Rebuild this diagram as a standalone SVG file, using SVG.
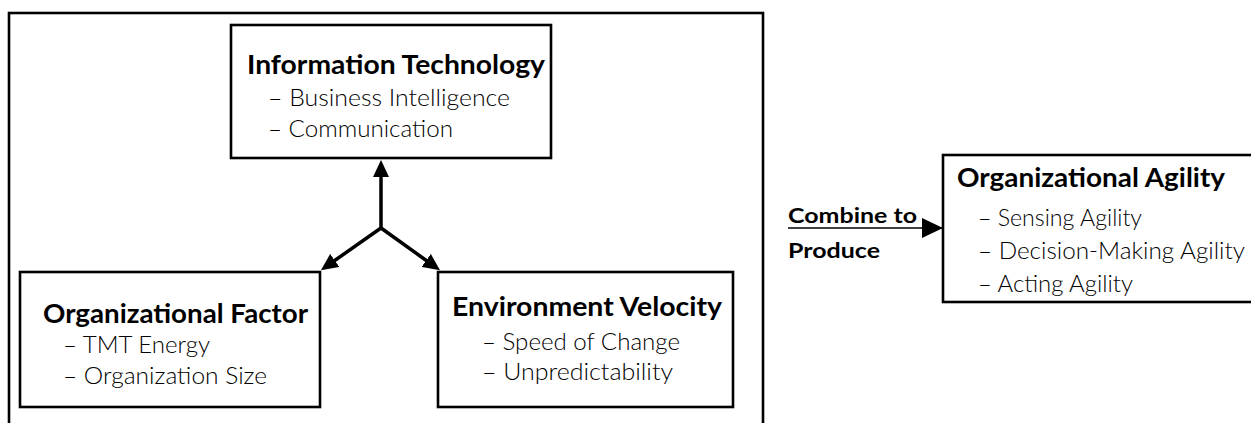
<svg xmlns="http://www.w3.org/2000/svg" width="1251" height="423" viewBox="0 0 1251 423">
<style>
.box{fill:#fff;stroke:#000;stroke-width:2.6}
.frame{fill:none;stroke:#000;stroke-width:2.6}
.t{font-family:Lato,"Liberation Sans",sans-serif;font-weight:bold;font-size:27px;fill:#000}
.i{font-family:Lato,"Liberation Sans",sans-serif;font-weight:300;font-size:24px;fill:#000}
.s{font-family:Lato,"Liberation Sans",sans-serif;font-weight:bold;font-size:21px;fill:#000}
.c{fill:none;stroke:#000;stroke-width:3.5}
.u{fill:none;stroke:#000;stroke-width:1.6}
</style>
<defs>
<marker id="ah" markerUnits="userSpaceOnUse" viewBox="0 0 17 16" refX="1" refY="8" markerWidth="17" markerHeight="16" orient="auto">
<path d="M0,0 L17,8 L0,16 z" fill="#000"/>
</marker>
<marker id="ah2" markerUnits="userSpaceOnUse" viewBox="0 0 21 20" refX="21" refY="10" markerWidth="21" markerHeight="20" orient="auto">
<path d="M0,0 L21,10 L0,20 z" fill="#000"/>
</marker>
</defs>
<rect class="frame" x="9" y="13" width="754" height="430"/>
<g id="connectors">
<path class="c" d="M381,230 V176" marker-end="url(#ah)"/>
<path class="c" d="M381,228 L334,261" marker-end="url(#ah)"/>
<path class="c" d="M381,228 L427,261" marker-end="url(#ah)"/>
<path class="u" d="M788,228 H943" marker-end="url(#ah2)"/>
<path class="u" d="M943,228 H978"/>
</g>
<g id="information-technology">
<rect class="box" x="231" y="25" width="320" height="133"/>
<text class="t" x="247" y="74" textLength="298" lengthAdjust="spacingAndGlyphs">Information Technology</text>
<text class="i" x="268" y="106" textLength="242" lengthAdjust="spacingAndGlyphs">– Business Intelligence</text>
<text class="i" x="268" y="137" textLength="185" lengthAdjust="spacingAndGlyphs">– Communication</text>
</g>
<g id="organizational-factor">
<rect class="box" x="20" y="272" width="300" height="135"/>
<text class="t" x="43" y="323" textLength="265" lengthAdjust="spacingAndGlyphs">Organizational Factor</text>
<text class="i" x="63" y="353" textLength="147" lengthAdjust="spacingAndGlyphs">– TMT Energy</text>
<text class="i" x="63" y="384" textLength="204" lengthAdjust="spacingAndGlyphs">– Organization Size</text>
</g>
<g id="environment-velocity">
<rect class="box" x="438" y="272" width="295" height="135"/>
<text class="t" x="452" y="316" textLength="270" lengthAdjust="spacingAndGlyphs">Environment Velocity</text>
<text class="i" x="482" y="350" textLength="198" lengthAdjust="spacingAndGlyphs">– Speed of Change</text>
<text class="i" x="482" y="380" textLength="191" lengthAdjust="spacingAndGlyphs">– Unpredictability</text>
</g>
<g id="combine-label">
<text class="s" x="788" y="223" textLength="129" lengthAdjust="spacingAndGlyphs">Combine to</text>
<text class="s" x="788" y="258" textLength="92" lengthAdjust="spacingAndGlyphs">Produce</text>
</g>
<g id="organizational-agility">
<rect class="box" x="943" y="155" width="330" height="147"/>
<text class="t" x="957" y="187" textLength="268" lengthAdjust="spacingAndGlyphs">Organizational Agility</text>
<text class="i" x="978" y="226" textLength="164" lengthAdjust="spacingAndGlyphs">– Sensing Agility</text>
<text class="i" x="978" y="259" textLength="267" lengthAdjust="spacingAndGlyphs">– Decision-Making Agility</text>
<text class="i" x="978" y="292" textLength="155" lengthAdjust="spacingAndGlyphs">– Acting Agility</text>
</g>
</svg>
